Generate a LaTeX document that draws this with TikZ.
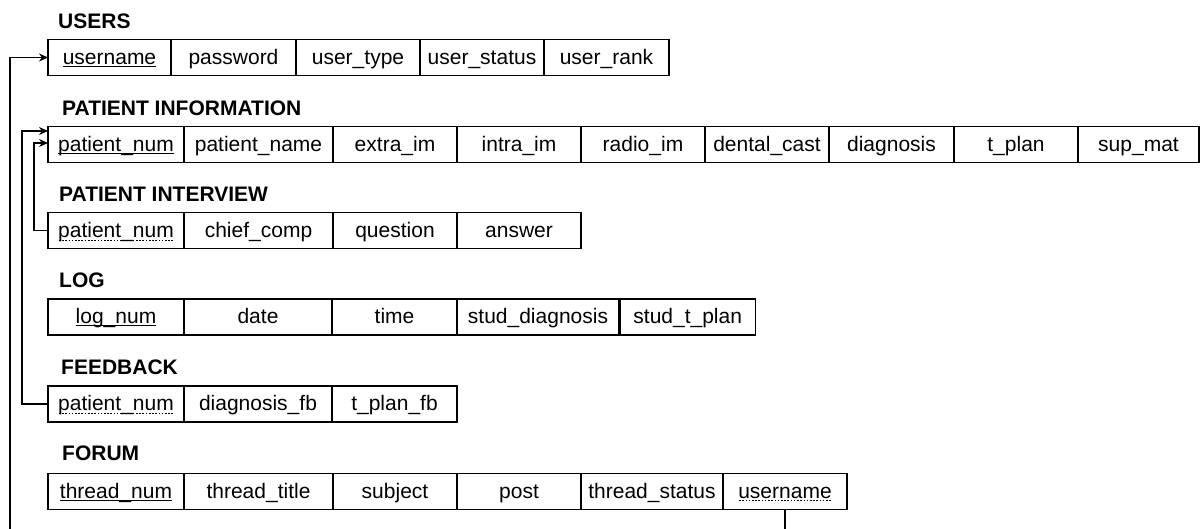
\documentclass[tikz,border=0pt]{standalone}
\usepackage{fontspec}
\setmainfont{Liberation Sans}
\usetikzlibrary{positioning,arrows.meta}
% solid underline for keys, dotted underline for foreign keys
\newcommand\pkline[1]{\setbox0\hbox{#1}\rlap{\rule[-2.6pt]{\wd0}{1.1pt}}\box0}
\newcommand\fkline[1]{\setbox0\hbox{#1}\rlap{\hbox to \wd0{\xleaders\hbox to 3.2pt{\hss\rule[-3pt]{1.6pt}{0.9pt}\hss}\hfill}}\box0}
\tikzstyle{cell} = [draw, rectangle, line width=1.3pt, minimum height=36pt, inner sep=0pt, outer sep=0pt, text height=15pt, text depth=1.5pt, font=\fontsize{21}{25}\selectfont]
\tikzstyle{tname} = [inner sep=0pt, text depth=0pt, font=\bfseries\fontsize{21}{25}\selectfont]
\tikzstyle{arrow} = [line width=1.3pt,->,>={Stealth[length=9pt,width=8pt]}]

\begin{document}
\begin{tikzpicture}[x=1pt, y=1pt]
                        \useasboundingbox (0,0) rectangle (1201,529);
                        \clip (0,0) rectangle (1201,529);
                        % USERS
                        \node[cell, minimum width=123pt, anchor=west] (uName) at (48,471.5) {\pkline{username}};
                        \node[cell, minimum width=125pt, right=0pt of uName] (uPass) {password};
                        \node[cell, minimum width=124pt, right=0pt of uPass] (uType) {user\_type};
                        \node[cell, minimum width=124pt, right=0pt of uType] (uStatus) {user\_status};
                        \node[cell, minimum width=125pt, right=0pt of uStatus] (uRank) {user\_rank};
                        \node[tname, above right=11pt and 10pt of uName.north west] (tUsers) {USERS};
                        % PATIENT INFORMATION
                        \node[cell, minimum width=136pt, anchor=west] (pPat) at (48,384.5) {\pkline{patient\_num}};
                        \node[cell, minimum width=149pt, right=0pt of pPat] (pName) {patient\_name};
                        \node[cell, minimum width=124pt, right=0pt of pName] (pExtra) {extra\_im};
                        \node[cell, minimum width=124pt, right=0pt of pExtra] (pIntra) {intra\_im};
                        \node[cell, minimum width=124pt, right=0pt of pIntra] (pRadio) {radio\_im};
                        \node[cell, minimum width=124pt, right=0pt of pRadio] (pCast) {dental\_cast};
                        \node[cell, minimum width=125pt, right=0pt of pCast] (pDiag) {diagnosis};
                        \node[cell, minimum width=124pt, right=0pt of pDiag] (pPlan) {t\_plan};
                        \node[cell, minimum width=121pt, right=0pt of pPlan] (pSup) {sup\_mat};
                        \node[tname, above right=11pt and 14pt of pPat.north west] (tInfo) {PATIENT INFORMATION};
                        % PATIENT INTERVIEW
                        \node[cell, minimum width=136pt, anchor=west] (iPat) at (48,298.3) {\fkline{patient\_num}};
                        \node[cell, minimum width=149pt, right=0pt of iPat] (iComp) {chief\_comp};
                        \node[cell, minimum width=124pt, right=0pt of iComp] (iQuest) {question};
                        \node[cell, minimum width=124pt, right=0pt of iQuest] (iAns) {answer};
                        \node[tname, above right=11pt and 11pt of iPat.north west] (tInterview) {PATIENT INTERVIEW};
                        % LOG
                        \node[cell, minimum width=136pt, anchor=west] (lNum) at (48,212) {\pkline{log\_num}};
                        \node[cell, minimum width=148pt, right=0pt of lNum] (lDate) {date};
                        \node[cell, minimum width=125pt, right=0pt of lDate] (lTime) {time};
                        \node[cell, minimum width=162pt, right=0pt of lTime] (lDiag) {stud\_diagnosis};
                        \node[cell, minimum width=135pt, right=1.2pt of lDiag] (lPlan) {stud\_t\_plan};
                        \node[tname, above right=11pt and 11pt of lNum.north west] (tLog) {LOG};
                        % FEEDBACK
                        \node[cell, minimum width=136pt, anchor=west] (fbPat) at (48,125) {\fkline{patient\_num}};
                        \node[cell, minimum width=148pt, right=0pt of fbPat] (fbDiag) {diagnosis\_fb};
                        \node[cell, minimum width=125pt, right=0pt of fbDiag] (fbPlan) {t\_plan\_fb};
                        \node[tname, above right=11pt and 13pt of fbPat.north west] (tFeedback) {FEEDBACK};
                        % FORUM
                        \node[cell, minimum width=136pt, anchor=west] (fNum) at (48,37.5) {\pkline{thread\_num}};
                        \node[cell, minimum width=149pt, right=0pt of fNum] (fTitle) {thread\_title};
                        \node[cell, minimum width=124pt, right=0pt of fTitle] (fSubj) {subject};
                        \node[cell, minimum width=124pt, right=0pt of fSubj] (fPost) {post};
                        \node[cell, minimum width=142pt, right=0pt of fPost] (fStatus) {thread\_status};
                        \node[cell, minimum width=124pt, right=0pt of fStatus] (fUser) {\fkline{username}};
                        \node[tname, above right=13pt and 14pt of fNum.north west] (tForum) {FORUM};
                        % foreign keys
                        \coordinate (corner) at (10,-20);
                        \draw[arrow] (fUser.south) |- (corner) |- (uName.west);
                        \draw[arrow] (fbPat.west) -- ++(-26,0) |- ([yshift=13.5pt]pPat.west);
                        \draw[arrow] (iPat.west) -- ++(-14,0) |- ([yshift=1.5pt]pPat.west);
                    \end{tikzpicture}
\end{document}
